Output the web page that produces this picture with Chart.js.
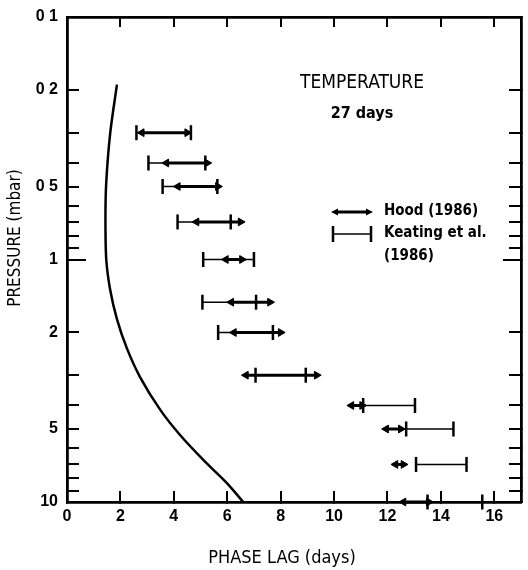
<!DOCTYPE html>
<html>
<head>
<meta charset="utf-8">
<script src="https://cdn.jsdelivr.net/npm/chart.js@4.4.1/dist/chart.umd.min.js"></script>
<style>
  html, body { margin: 0; background: #fff; }
  canvas { display: block; }
</style>
</head>
<body>
<canvas id="phase-chart" width="528" height="570"></canvas>
<script>
// pressure levels (mbar) of the observed phase-lag ranges
const levels = [0.3, 0.4, 0.5, 0.7, 1, 1.5, 2, 3, 4, 5, 7, 10];
const hoodFrom = [2.8, 3.72, 4.15, 4.85, 5.95, 6.15, 6.25, 6.7, 10.65, 11.95, 12.3, 12.6];
const hoodTo = [4.5, 5.25, 5.65, 6.5, 6.55, 7.6, 8.0, 9.35, 11.05, 12.5, 12.6, 13.55];
const keatingFrom = [2.6, 3.05, 3.58, 4.14, 5.1, 5.07, 5.66, 7.06, 11.09, 12.7, 13.07, 13.5];
const keatingTo = [4.64, 5.18, 5.63, 6.13, 7.0, 7.08, 7.71, 8.94, 13.03, 14.47, 14.96, 15.55];

// model phase lag profile
const modelPressure = [0.19, 0.3, 0.48, 0.67, 1.0, 1.34, 1.76, 2.32, 3.06, 4.18, 5.32, 6.77, 8.32, 10];
const modelLag = [1.87, 1.62, 1.47, 1.44, 1.47, 1.62, 1.87, 2.24, 2.74, 3.5, 4.25, 5.14, 5.97, 6.6];

const pressureTicks = [0.1, 0.2, 0.3, 0.4, 0.5, 0.6, 0.7, 0.8, 0.9, 1, 2, 3, 4, 5, 6, 7, 8, 9, 10];
const labelledPressures = [0.1, 0.2, 0.5, 1, 2, 5, 10];
const pressureLabels = ["0 1", "0 2", "0 5", "1", "2", "5", "10"];
const lagTicks = [0, 2, 4, 6, 8, 10, 12, 14, 16];

const tickFont = { family: "'Liberation Sans', Arial, sans-serif", size: 16, weight: "bold" };
const textFont = "'DejaVu Sans Condensed', 'DejaVu Sans', sans-serif";

const modelSet = {
    data: modelPressure.map((p, i) => ({ x: modelLag[i], y: p })),
    showLine: true, borderColor: "#000", borderWidth: 2.5, pointRadius: 0, tension: 0.3
};

const keatingSets = levels.map((p, i) => ({
    data: [{ x: keatingFrom[i], y: p }, { x: keatingTo[i], y: p }],
    showLine: true, borderColor: "#000", borderWidth: 1.6, clip: false,
    pointStyle: "line", pointRotation: 90, pointRadius: 7.5,
    pointBorderWidth: 2.5, pointBorderColor: "#000"
}));

const hoodSets = levels.map((p, i) => ({
    data: [{ x: hoodFrom[i], y: p }, { x: hoodTo[i], y: p }],
    showLine: true, borderColor: "#000", borderWidth: 3, clip: false,
    pointStyle: "triangle", pointRotation: [-90, 90], pointRadius: 4.5,
    pointBackgroundColor: "#000", pointBorderColor: "#000", pointBorderWidth: 1
}));

// fixed box sizes so the plot frame sits at the same place whatever the labels need
const fixSize = (w, h) => s => {
    if (w !== null) s.width = w;
    if (h !== null) s.height = h;
    s.paddingTop = s.paddingBottom = s.paddingLeft = s.paddingRight = 0;
};

function pressureAxis(position, tickValues, tickLength, extra) {
    return Object.assign({
        type: "logarithmic", position, reverse: true, min: 0.1, max: 10,
        afterBuildTicks: s => { s.ticks = tickValues.map(v => ({ value: v })); },
        border: { color: "#000", width: 2.8 },
        grid: { drawOnChartArea: false, color: "#000", lineWidth: 2, tickLength },
        ticks: { display: false, autoSkip: false }
    }, extra);
}

function lagAxis(position, tickLength, extra) {
    return Object.assign({
        type: "linear", position, min: 0, max: 17,
        afterBuildTicks: s => { s.ticks = lagTicks.map(v => ({ value: v })); },
        border: { color: "#000", width: 2.8 },
        grid: { drawOnChartArea: false, color: "#000", lineWidth: 2, tickLength },
        ticks: { display: false, autoSkip: false }
    }, extra);
}

// titles, legend and axis names drawn on top of the plot
const annotate = {
    id: "annotate",
    afterDraw(chart) {
        const ctx = chart.ctx;
        ctx.save();
        ctx.fillStyle = "#000";
        ctx.strokeStyle = "#000";
        ctx.textBaseline = "middle";

        ctx.textAlign = "center";
        ctx.font = `19px ${textFont}`;
        ctx.fillText("TEMPERATURE", 362, 83);
        ctx.font = `bold 16px ${textFont}`;
        ctx.fillText("27 days", 362, 114);

        // legend: Hood arrow sample
        ctx.lineWidth = 3;
        ctx.beginPath(); ctx.moveTo(336, 212); ctx.lineTo(368, 212); ctx.stroke();
        ctx.beginPath();
        ctx.moveTo(331, 212); ctx.lineTo(338, 208.5); ctx.lineTo(338, 215.5); ctx.closePath();
        ctx.moveTo(373, 212); ctx.lineTo(366, 208.5); ctx.lineTo(366, 215.5); ctx.closePath();
        ctx.fill();
        // legend: Keating capped bar sample
        ctx.lineWidth = 1.6;
        ctx.beginPath(); ctx.moveTo(333, 234); ctx.lineTo(371, 234); ctx.stroke();
        ctx.lineWidth = 2.5;
        ctx.beginPath();
        ctx.moveTo(333, 226); ctx.lineTo(333, 242);
        ctx.moveTo(371, 226); ctx.lineTo(371, 242);
        ctx.stroke();

        ctx.textAlign = "left";
        ctx.font = `bold 15px ${textFont}`;
        ctx.fillText("Hood (1986)", 384, 211);
        ctx.fillText("Keating et al.", 384, 233);
        ctx.fillText("(1986)", 384, 256);

        ctx.textAlign = "center";
        ctx.font = `18px ${textFont}`;
        ctx.fillText("PHASE LAG (days)", 282, 558);
        ctx.font = `17px ${textFont}`;
        ctx.translate(16, 238);
        ctx.rotate(-Math.PI / 2);
        ctx.fillText("PRESSURE (mbar)", 0, 0);
        ctx.restore();
    }
};

new Chart(document.getElementById("phase-chart"), {
    type: "scatter",
    data: { datasets: [modelSet, ...keatingSets, ...hoodSets] },
    options: {
        responsive: false,
        animation: false,
        layout: { padding: 0, autoPadding: false },
        plugins: { legend: { display: false }, tooltip: { enabled: false } },
        scales: {
            x: lagAxis("bottom", -11, {
                afterFit: fixSize(null, 68),
                ticks: { display: true, autoSkip: false, padding: 16, color: "#000", font: tickFont, maxRotation: 0 }
            }),
            x2: lagAxis("top", -10, { afterFit: fixSize(null, 17) }),
            y: pressureAxis("left", pressureTicks, -12, {
                weight: 1,
                afterFit: fixSize(67, null),
                ticks: {
                    display: true, autoSkip: false, padding: 21, color: "#000", font: tickFont,
                    callback: v => {
                        const k = labelledPressures.indexOf(v);
                        return k < 0 ? "" : pressureLabels[k];
                    }
                }
            }),
            yLong: pressureAxis("left", [1], -19, {
                weight: -1, border: { display: false },
                afterFit: fixSize(0, null)
            }),
            y2: pressureAxis("right", pressureTicks, -12, { weight: 1, afterFit: fixSize(7, null) }),
            y2Long: pressureAxis("right", [1], -18, {
                weight: -1, border: { display: false },
                afterFit: fixSize(0, null)
            })
        }
    },
    plugins: [annotate]
});
</script>
</body>
</html>
